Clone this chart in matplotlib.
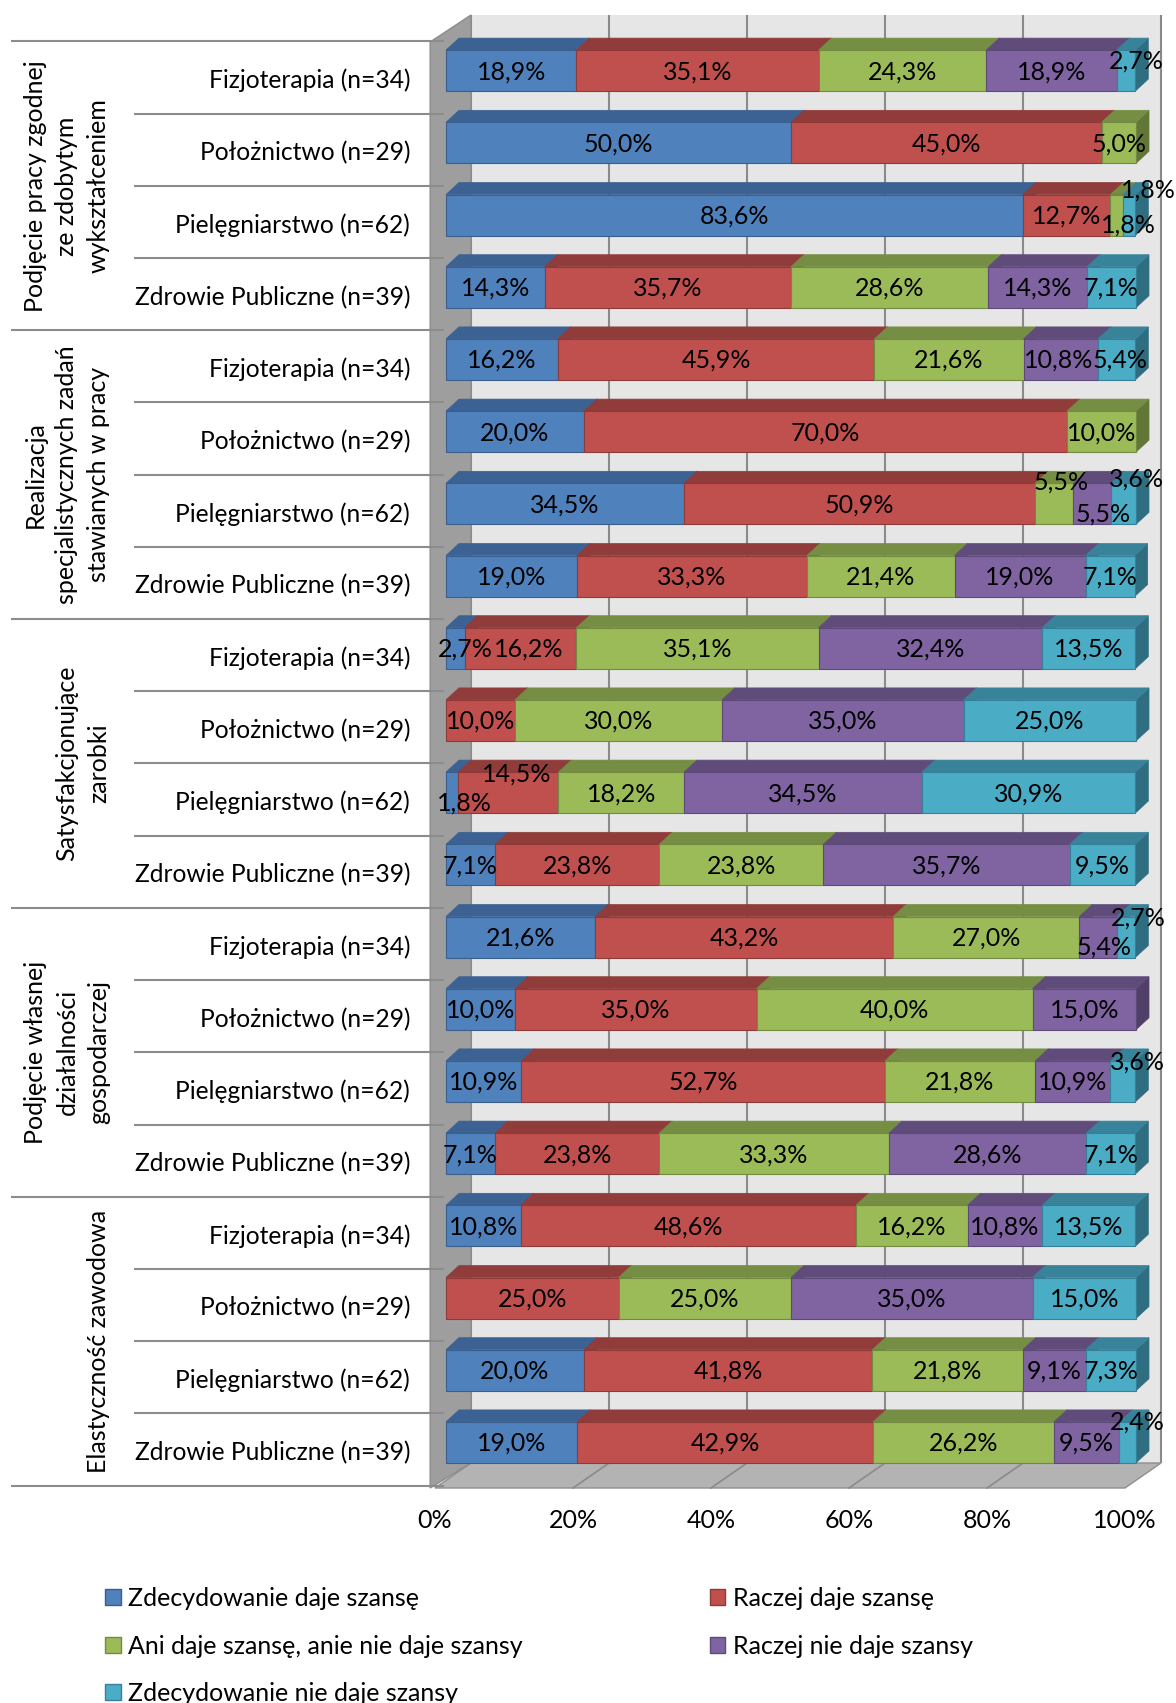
import matplotlib
matplotlib.use('Agg')
import matplotlib.pyplot as plt
from matplotlib.patches import Polygon, Patch
import numpy as np

plt.rcParams['font.family'] = ['Lato', 'DejaVu Sans']

# ---------------- data ----------------
series_names = ['Zdecydowanie daje szansę', 'Raczej daje szansę',
                'Ani daje szansę, anie nie daje szansy', 'Raczej nie daje szansy',
                'Zdecydowanie nie daje szansy']
categories = ['Fizjoterapia (n=34)', 'Położnictwo (n=29)',
              'Pielęgniarstwo (n=62)', 'Zdrowie Publiczne (n=39)']
group_labels = ['Podjęcie pracy zgodnej\nze zdobytym\nwykształceniem',
                'Realizacja\nspecjalistycznych zadań\nstawianych w pracy',
                'Satysfakcjonujące\nzarobki',
                'Podjęcie własnej\ndziałalności\ngospodarczej',
                'Elastyczność zawodowa']
tick_values = [0, 20, 40, 60, 80, 100]

zdec_daje = [18.9, 50.0, 83.6, 14.3, 16.2, 20.0, 34.5, 19.0, 2.7, 0.0,
             1.8, 7.1, 21.6, 10.0, 10.9, 7.1, 10.8, 0.0, 20.0, 19.0]
raczej_daje = [35.1, 45.0, 12.7, 35.7, 45.9, 70.0, 50.9, 33.3, 16.2, 10.0,
               14.5, 23.8, 43.2, 35.0, 52.7, 23.8, 48.6, 25.0, 41.8, 42.9]
ani_ani = [24.3, 5.0, 1.8, 28.6, 21.6, 10.0, 5.5, 21.4, 35.1, 30.0,
           18.2, 23.8, 27.0, 40.0, 21.8, 33.3, 16.2, 25.0, 21.8, 26.2]
raczej_nie = [18.9, 0.0, 0.0, 14.3, 10.8, 0.0, 5.5, 19.0, 32.4, 35.0,
              34.5, 35.7, 5.4, 15.0, 10.9, 28.6, 10.8, 35.0, 9.1, 9.5]
zdec_nie = [2.7, 0.0, 1.8, 7.1, 5.4, 0.0, 3.6, 7.1, 13.5, 25.0,
            30.9, 9.5, 2.7, 0.0, 3.6, 7.1, 13.5, 15.0, 7.3, 2.4]

# ---------------- styles ----------------
front_c = ['#4F81BD', '#C0504D', '#9BBB59', '#8064A2', '#4BACC6']
top_c = ['#3C6293', '#903C3A', '#758E43', '#604C7B', '#38839A']
side_c = ['#31527A', '#7A3231', '#617637', '#503F67', '#2F6E81']
edge_c = ['#3A5F8C', '#8E3A38', '#728B42', '#5E4A79', '#37809A']

# label offsets in pixels (dx right, dy up) for crowded labels
label_offsets = {(0, 4): (10, 11), (2, 2): (12, -9), (2, 4): (19, 26),
                 (4, 3): (-2, 0), (4, 4): (3, 0),
                 (6, 2): (7, 23), (6, 3): (11, -9), (6, 4): (13, 26),
                 (8, 0): (10, 0), (8, 1): (8, 0), (10, 0): (12, -9),
                 (10, 1): (8, 20), (12, 3): (6, -9), (12, 4): (12, 20),
                 (14, 4): (15, 20), (19, 4): (10, 21)}

W, H = 1176, 1703
X0, PXP = 446.0, 6.9       # x pixel of 0%, pixels per percent
Y0, PXR = 70.6, 72.2       # y pixel of first row centre, pixels per row
FS = 18

def X(px):
    return (px - X0) / PXP

def Y(py):
    return (py - Y0) / PXR

fig = plt.figure(figsize=(W / 100, H / 100), dpi=100)
ax = fig.add_axes([0, 0, 1, 1])
ax.set_xlim(X(0), X(W))
ax.set_ylim(Y(H), Y(0))
ax.axis('off')

nrows = len(zdec_daje)
rows = np.arange(nrows)
vals = np.array([zdec_daje, raczej_daje, ani_ani, raczej_nie, zdec_nie])
lefts = np.cumsum(vals, axis=0) - vals

BAR_H = 41 / PXR
DX, DY = 13 / PXP, 12 / PXR
BACK_X = 25 / PXP
FRONT_X = -11 / PXP
wall_top = Y(15)
floor_back = Y(1463)
floor_front = Y(1488)
wall_front_top = Y(42)

# back wall
ax.add_patch(Polygon([(BACK_X, wall_top), (100 + BACK_X, wall_top),
                      (100 + BACK_X, floor_back), (BACK_X, floor_back)],
                     closed=True, facecolor='#E6E6E6', edgecolor='none', zorder=1))
for t in tick_values:
    ax.plot([t + BACK_X, t + BACK_X], [wall_top, floor_back], color='#8A8A8A',
            lw=1.5, zorder=2, solid_capstyle='butt')
# floor
ax.add_patch(Polygon([(FRONT_X, floor_front), (BACK_X, floor_back),
                      (100 + BACK_X, floor_back), (100 + FRONT_X, floor_front)],
                     closed=True, facecolor='#B3B3B3', edgecolor='#8F8F8F', lw=1, zorder=3))
for t in tick_values[1:-1]:
    ax.plot([t + FRONT_X, t + BACK_X], [floor_front, floor_back], color='#8A8A8A',
            lw=1.2, zorder=3.5)
# left wall
ax.add_patch(Polygon([(FRONT_X - 0.7, wall_front_top), (BACK_X, wall_top),
                      (BACK_X, floor_back), (FRONT_X - 0.7, floor_front)],
                     closed=True, facecolor='#9E9E9E', edgecolor='#8C8C8C', lw=1, zorder=4))

# bars with 3D faces
for k in range(vals.shape[0]):
    m = vals[k] > 0
    ax.barh(rows[m], vals[k][m], left=lefts[k][m], height=BAR_H,
            color=front_c[k], edgecolor=edge_c[k], lw=0.8, zorder=12 + 3 * k)
    for r in rows[m]:
        l = lefts[k][r]
        rr = l + vals[k][r]
        top = r - BAR_H / 2
        bot = r + BAR_H / 2
        ax.add_patch(Polygon([(rr, top), (rr + DX, top - DY), (rr + DX, bot - DY), (rr, bot)],
                             closed=True, facecolor=side_c[k], edgecolor=side_c[k],
                             lw=0.5, zorder=10 + 3 * k))
        ax.add_patch(Polygon([(l, top), (l + DX, top - DY), (rr + DX, top - DY), (rr, top)],
                             closed=True, facecolor=top_c[k], edgecolor=top_c[k],
                             lw=0.5, zorder=11 + 3 * k))
        off = label_offsets.get((r, k), (0, 0))
        ax.annotate(f"{vals[k][r]:.1f}%".replace('.', ','), (l + vals[k][r] / 2, r),
                    xytext=(off[0], off[1] - 1), textcoords='offset pixels',
                    ha='center', va='center', fontsize=FS, color='black', zorder=40)

# category labels and separator lines
LINE_SHIFT = 7 / PXR
ncat = len(categories)
for r in rows:
    ax.text(X(410), r + LINE_SHIFT + 3 / PXR, categories[r % ncat], ha='right',
            va='center', fontsize=FS - 0.3, color='black')
for b in range(nrows + 1):
    yb = b - 0.5 + LINE_SHIFT
    x_start = X(11) if b % ncat == 0 else X(134)
    ax.plot([x_start, X(444)], [yb, yb], color='#8C8C8C', lw=1.5, zorder=5,
            solid_capstyle='butt')
for g, lab in enumerate(group_labels):
    yc = g * ncat + (ncat - 1) / 2 + LINE_SHIFT
    ax.text(X(110), yc, lab, rotation=90, ha='right', va='center',
            multialignment='center', fontsize=FS, linespacing=1.45, color='black')

# x tick labels
for t in tick_values:
    ax.text(t + FRONT_X, Y(1520), f"{t}%", ha='center', va='center', fontsize=FS)

# legend (two columns)
handles = [Patch(facecolor=front_c[k], edgecolor=edge_c[k], lw=1) for k in range(5)]
leg_kw = dict(frameon=False, fontsize=FS, handlelength=0.62, handleheight=0.62,
              handletextpad=0.3, labelspacing=0.98, borderpad=0, borderaxespad=0,
              loc='upper left')
fig.legend([handles[0], handles[2], handles[4]],
           [series_names[0], series_names[2], series_names[4]],
           bbox_to_anchor=(105 / W, 1 - 1587 / H), **leg_kw)
fig.legend([handles[1], handles[3]], [series_names[1], series_names[3]],
           bbox_to_anchor=(710 / W, 1 - 1587 / H), **leg_kw)

fig.savefig('out.png', dpi=100)
